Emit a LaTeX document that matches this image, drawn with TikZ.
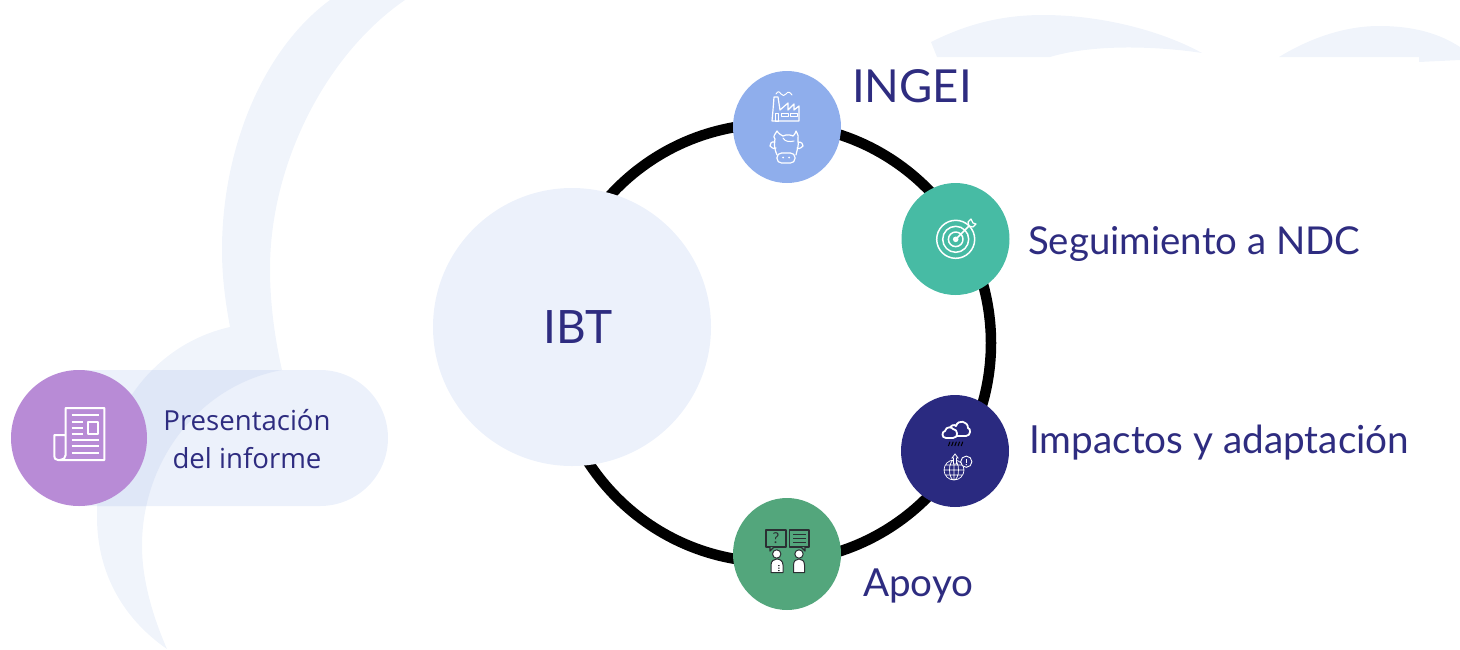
\documentclass[tikz,border=0pt]{standalone}
\usepackage{fontspec}
\setmainfont{Lato}
\newfontfamily\pillfont{Open Sans}
\definecolor{swoosh}{HTML}{F0F4FB}
\definecolor{pale}{HTML}{ECF1FB}
\definecolor{overlap}{HTML}{DFE7F7}
\definecolor{ink}{HTML}{2E2C80}
\definecolor{cblue}{HTML}{8FAEEC}
\definecolor{cteal}{HTML}{47BBA4}
\definecolor{cnavy}{HTML}{2A2A80}
\definecolor{cgreen}{HTML}{53A67C}
\definecolor{cpurple}{HTML}{B88BD6}
\definecolor{idark}{HTML}{2B2F33}
\tikzset{
  disc/.style={ellipse,inner sep=0pt,minimum width=108pt,minimum height=112pt},
  biglabel/.style={text=ink,inner sep=0pt,anchor=base west,font=\fontsize{38.6}{38.6}\selectfont},
  pilltext/.style={text=ink,inner sep=0pt,anchor=base,font=\pillfont\fontsize{27.6}{27.6}\selectfont},
  iconw/.style={draw=white,line width=1.5pt,line join=round,line cap=round},
  icond/.style={draw=idark,line width=1.2pt,line join=round},
}
\usetikzlibrary{shapes.geometric}
\newcommand{\swooshpathA}{(330,0) .. controls (262,50) and (222,150) .. (222,250) .. controls (222,280) and (226,305) .. (230,327) .. controls (150,345) and (97,420) .. (97,517) .. controls (97,575) and (125,620) .. (167,649) .. controls (150,610) and (142,575) .. (142,546) .. controls (142,460) and (200,385) .. (282,370) .. controls (274,335) and (270,300) .. (270,269) .. controls (270,165) and (325,55) .. (405,0) -- cycle}
\newcommand{\pillpath}{(79,370) -- (320,370) arc[start angle=90,end angle=-90,radius=68pt] -- (79,506) -- cycle}
\begin{document}
\begin{tikzpicture}[x=1pt,y=-1pt]
\useasboundingbox (0,0) rectangle (1460,649);
% background swooshes
\fill[swoosh] \swooshpathA;
\fill[swoosh] (931,42) .. controls (965,25) and (1000,15) .. (1043,15) .. controls (1100,15) and (1160,30) .. (1202,53) .. controls (1170,48) and (1100,42) .. (1050,57) -- (937,57) -- cycle;
\fill[swoosh] (1279,57) .. controls (1310,38) and (1345,26) .. (1379,26) .. controls (1415,26) and (1440,34) .. (1460,47) -- (1460,60) -- (1419,62) -- (1419,57) -- cycle;
% pill
\fill[pale] \pillpath;
\begin{scope}
  \clip \swooshpathA;
  \fill[overlap] \pillpath;
\end{scope}
% ring
\coordinate (ringc) at (772,343);
\draw[black,line width=10.5pt] (ringc) circle[radius=219pt];
% circles
\node[circle,inner sep=0pt,minimum size=278pt,fill=pale] (ibt) at (572,327) {};
\node[text=ink,inner sep=0pt,font=\fontsize{46}{46}\selectfont] (ibtl) at (578,327) {IBT};
\node[disc,fill=cblue] (ingei) at (787,127) {};
\node[disc,fill=cteal] (ndc) at (955.5,239) {};
\node[disc,fill=cnavy] (imp) at (955,451) {};
\node[disc,fill=cgreen] (apoyo) at (787,554) {};
\node[circle,inner sep=0pt,minimum size=136pt,fill=cpurple] (pres) at (79,438) {};
% labels
\node[biglabel,font=\fontsize{45.5}{45.5}\selectfont] (l1) at (852,102) {INGEI};
\node[biglabel,font=\fontsize{38.4}{38.4}\selectfont] (l2) at (1028,254) {Seguimiento a NDC};
\node[biglabel,font=\fontsize{38.7}{38.7}\selectfont] (l3) at (1029,453) {Impactos y adaptación};
\node[biglabel] (l4) at (863,596) {Apoyo};
\node[pilltext] (p1) at (247,430) {Presentación};
\node[pilltext] (p2) at (247,468) {del informe};
% factory icon
\draw[iconw,line width=1.2pt] (772,121) -- (773,110) -- (774,97) -- (778,97) -- (780,110) -- (788,103) -- (788,110) -- (794,104) -- (794,110) -- (799,106) -- (799,121) -- cycle;
\draw[iconw,line width=1pt] (781,113) rectangle (788,116) (790,113) rectangle (797,116) (775,113) rectangle (778,121);
\draw[iconw,line width=1pt] (776,94) .. controls (778,91) and (779,91) .. (781,94) .. controls (783,96) and (784,96) .. (786,94) .. controls (788,91) and (790,92) .. (792,95);
% cow icon
\draw[iconw,line width=1.2pt] (777,155) .. controls (774,148) and (774,143) .. (775,139) .. controls (772,136) and (776,134) .. (777,131) .. controls (779,134) and (781,135) .. (783,136) .. controls (787,134) and (791,135) .. (793,136) .. controls (795,135) and (795,133) .. (796,131) .. controls (798,135) and (799,137) .. (798,140) .. controls (799,146) and (797,150) .. (796,155);
\draw[iconw,line width=1.2pt] (775,142) .. controls (771,141) and (770,144) .. (770,146) .. controls (773,149) and (775,149) .. (776,148);
\draw[iconw,line width=1.2pt] (798,142) .. controls (802,142) and (803,144) .. (803,146) .. controls (800,149) and (798,149) .. (797,148);
\draw[iconw,line width=1.2pt,rounded corners=4.5pt] (777,153) rectangle (795,163);
\draw[iconw,line width=1pt] (783,138) .. controls (785,142) and (790,142) .. (794,141);
\fill[white] (783,157.5) circle[radius=1pt] (789,157.5) circle[radius=1pt];
% target icon
\coordinate (tc) at (955.7,239.3);
\draw[iconw] (tc) circle[radius=19pt] (tc) circle[radius=13pt] (tc) circle[radius=7.3pt];
\fill[white] (tc) circle[radius=2.8pt];
\draw[iconw] (tc) -- (969,226);
\draw[iconw,line width=1.2pt] (969,226) -- (968,222) -- (971,219) -- (973,223) -- (976,224) -- (973,227) -- cycle;
% cloud icon
\draw[white,fill=cnavy,line width=1.8pt,line join=round] (952,436) .. controls (947,436) and (947,431) .. (950,430) .. controls (949,425) and (955,424) .. (956,426) .. controls (958,419) and (968,421) .. (968,428) .. controls (971,428) and (971,436) .. (966,436) -- cycle;
\draw[white,fill=cnavy,line width=1.8pt,line join=round] (946,438) .. controls (941,438) and (942,431) .. (945,431) .. controls (946,426) and (952,427) .. (953,429) .. controls (958,429) and (959,438) .. (953,438) -- cycle;
\draw[black,line width=1pt] (950,441.7) -- (948.4,446) (953.2,441.7) -- (951.6,446) (956.4,441.7) -- (954.8,446) (959.6,441.7) -- (958,446) (962.8,441.7) -- (961.2,446);
% globe icon
\coordinate (gc) at (954,470);
\draw[white,line width=0.7pt] (gc) circle[radius=10pt] (gc) ellipse[x radius=4.5pt,y radius=10pt] (954,460) -- (954,480) (944,470) -- (964,470) (945.5,465) -- (962.5,465) (945.5,475) -- (962.5,475);
\draw[white,fill=cnavy,line width=0.8pt] (955,454) -- (958,458) -- (956.5,458) -- (956.5,464) -- (953.5,464) -- (953.5,458) -- (952,458) -- cycle;
\draw[white,fill=cnavy,line width=0.9pt] (966.3,461.7) circle[radius=5.6pt];
\draw[white,line width=1.3pt] (966.3,458.7) -- (966.3,462.5);
\fill[white] (966.3,464.6) circle[radius=0.8pt];
% speech bubbles and people
\draw[icond,fill=cgreen] (766,530) rectangle (786,547);
\draw[icond,fill=cgreen] (770,547) -- (770,551) -- (774,547);
\node[inner sep=0pt,text=idark,font=\fontsize{15}{15}\selectfont] (qm) at (776,538.5) {?};
\draw[icond,fill=cgreen] (789.5,530) -- (809,530) -- (809,547) -- (789.5,547) -- cycle;
\draw[icond,fill=cgreen] (801,547) -- (805,551) -- (805,547);
\draw[idark,line width=1.1pt] (793,534.5) -- (805.5,534.5) (793,538.5) -- (805.5,538.5) (793,542.5) -- (805.5,542.5);
\draw[icond,fill=white,line width=1pt] (776.7,554) circle[radius=4.2pt];
\draw[icond,fill=white,line width=1pt] (799,554) circle[radius=4.2pt];
\draw[icond,fill=white,line width=1pt] (771,572.5) -- (771,565) .. controls (771,561) and (774,559) .. (776.7,559) .. controls (780,559) and (783,561) .. (783,565) -- (783,572.5) -- cycle;
\draw[icond,fill=white,line width=1pt] (793.5,572.5) -- (793.5,565) .. controls (793.5,561) and (796,559) .. (799,559) .. controls (802,559) and (804.5,561) .. (804.5,565) -- (804.5,572.5) -- cycle;
\fill[idark] (778,565) rectangle (779.5,566.2) (778,567.5) rectangle (779.5,568.7) (778,570) rectangle (779.5,571.2);
% newspaper icon
\draw[iconw,line width=2pt] (65.7,435) -- (65.7,408) -- (104.3,408) -- (104.3,460) -- (58,460) .. controls (55,460) and (54.3,458) .. (54.3,456) -- (54.3,435) -- (65.7,435) -- (65.7,455) .. controls (65.7,458) and (63,460) .. (60,460);
\draw[iconw,line width=2pt,line cap=butt] (71.5,415) -- (99,415) (71.5,421.7) -- (83,421.7) (71.5,428) -- (83,428) (71.5,434) -- (83,434) (71.5,440) -- (99,440) (71.5,446) -- (99,446) (71.5,452.5) -- (99,452.5);
\draw[iconw,line width=2pt] (88.3,422) rectangle (98.3,433.5);
\end{tikzpicture}
\end{document}
